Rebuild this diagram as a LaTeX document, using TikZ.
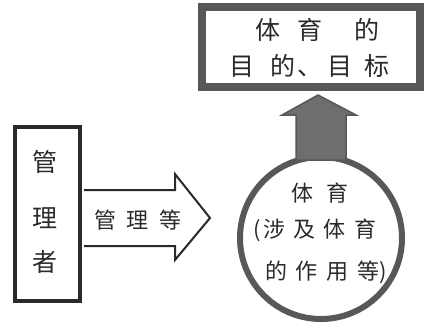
\documentclass[tikz,border=0pt]{standalone}
\usepackage{fontspec}
\newfontfamily\cjk{Noto Sans CJK SC}
\usetikzlibrary{calc}
\definecolor{ink}{HTML}{2A2A2A}
\definecolor{frame}{HTML}{585858}
\definecolor{arrowfill}{HTML}{6E6E6E}
\tikzset{
  txt/.style={inner sep=0pt, text=ink, font=\cjk\fontsize{22pt}{22pt}\selectfont},
  bigtxt/.style={inner sep=0pt, text=ink, font=\cjk\fontsize{25pt}{25pt}\selectfont},
}
\begin{document}
\begin{tikzpicture}[x=1pt,y=-1pt]
\useasboundingbox (0,0) rectangle (439,327);
% top box
\node[draw=frame, line width=8pt, minimum width=218pt, minimum height=80pt, inner sep=0pt] (goal) at (311,47) {};
\node[bigtxt, anchor=west] (g1) at (255.5,30) {体\hspace{17pt}育\hspace{32pt}的};
\node[bigtxt, anchor=west] (g2) at (229.5,66) {目\hspace{16pt}的\hspace{1.5pt}、\hspace{5.5pt}目\hspace{12pt}标};
% manager box
\node[draw=ink, line width=4pt, minimum width=65pt, minimum height=174pt, inner sep=0pt] (mgr) at (47.5,214) {};
\node[bigtxt] (m1) at (45,162) {管};
\node[bigtxt] (m2) at (45,218) {理};
\node[bigtxt] (m3) at (45,262) {者};
% circle
\node[draw=frame, circle, line width=6pt, minimum size=162pt, inner sep=0pt] (circ) at (321,238) {};
\node[txt] (c1) at (320,193) {体\hspace{13pt}育};
\node[txt] (c2) at (315,230) {(\hspace{2pt}涉\hspace{8pt}及\hspace{8pt}体\hspace{9pt}育};
\node[txt] (c3) at (326,272) {的\hspace{8pt}作\hspace{9pt}用\hspace{9pt}等)};
% right block arrow
\coordinate (tip) at (210,218);
\draw[ink, line width=2pt, line join=miter]
  ($(mgr.east)+(2,-24)$) -- (175,190) -- (175,174) -- (tip) -- (175,260) -- (175,246) -- ($(mgr.east)+(2,32)$);
\node[txt, anchor=west] (a1) at (94.5,220) {管\hspace{10pt}理\hspace{11pt}等};
% up block arrow
\filldraw[fill=arrowfill, draw=frame, line width=1.5pt, line join=miter]
  ($(circ.north)+(-25,6)$) -- (296,115) -- (282,115) -- ($(goal.south)+(7,4)$) -- (356,115) -- (346,115) -- ($(circ.north)+(25,6)$) -- cycle;
\end{tikzpicture}
\end{document}
